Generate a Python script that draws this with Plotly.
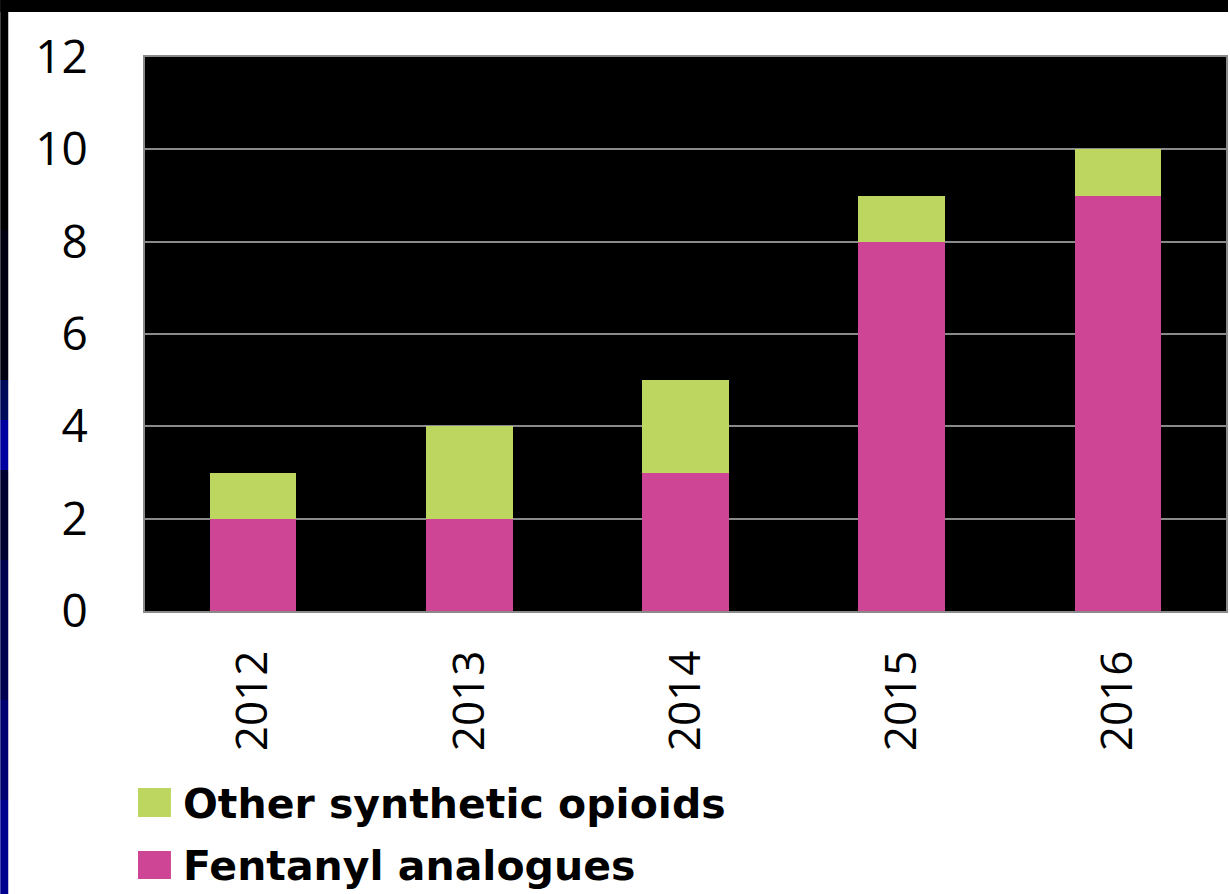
import plotly.graph_objects as go

years = ["2012", "2013", "2014", "2015", "2016"]
fentanyl_analogues = [2, 2, 3, 8, 9]
other_synthetic = [1, 2, 2, 1, 1]
y_ticks = [0, 2, 4, 6, 8, 10, 12]
series_names = ["Other synthetic opioids", "Fentanyl analogues"]

PINK = "#cf4595"
GREEN = "#bdd660"

W, H = 1230, 894
L, R, T, B = 145, 2, 57, 283
PW, PH = W - L - R, H - T - B


def px(x):
    return (x - L) / PW


def py(y):
    return (H - B - y) / PH


fig = go.Figure()
fig.add_trace(go.Bar(x=years, y=fentanyl_analogues, name=series_names[1],
                     marker=dict(color=PINK, line=dict(width=0))))
fig.add_trace(go.Bar(x=years, y=other_synthetic, name=series_names[0],
                     marker=dict(color=GREEN, line=dict(width=0))))

shapes = []
# frame strips (slide background)
shapes.append(dict(type="rect", xref="paper", yref="paper", x0=px(0), x1=px(W), y0=py(12), y1=py(0),
                   fillcolor="black", line=dict(width=0), layer="below"))
left_cols = [(0, 230, "#000000"), (230, 380, "#000010"), (380, 420, "#000a5a"), (420, 470, "#0000a0"),
             (470, 560, "#000030"), (560, 700, "#000050"), (700, 800, "#000070"), (800, 894, "#000090")]
for y0, y1, c in left_cols:
    shapes.append(dict(type="rect", xref="paper", yref="paper", x0=px(0), x1=px(8), y0=py(y1), y1=py(y0),
                       fillcolor=c, line=dict(width=0), layer="below"))
# legend swatches
legend_rows = [(788, 817, GREEN, series_names[0]), (851, 879, PINK, series_names[1])]
annotations = []
for y0, y1, c, name in legend_rows:
    shapes.append(dict(type="rect", xref="paper", yref="paper", x0=px(138), x1=px(171), y0=py(y1), y1=py(y0),
                       fillcolor=c, line=dict(width=0)))
    annotations.append(dict(xref="paper", yref="paper", x=px(181), y=py((y0 + y1) / 2 + 1),
                            xanchor="left", yanchor="middle", showarrow=False, text="<b>%s</b>" % name,
                            font=dict(family="DejaVu Sans", size=41, color="black")))

fig.update_layout(
    width=W, height=H,
    margin=dict(l=L, r=R, t=T, b=B, pad=0),
    paper_bgcolor="white", plot_bgcolor="black",
    barmode="stack", bargap=0.6,
    showlegend=False,
    shapes=shapes, annotations=annotations,
    font=dict(family="Open Sans", size=45, color="black"),
)
fig.update_xaxes(tickangle=-90, showgrid=False, showline=True, linecolor="#8a8a8a", linewidth=2,
                 mirror=True, ticks="", ticklabelstandoff=20,
                 tickfont=dict(family="Open Sans", size=44, color="black"))
fig.update_yaxes(range=[0, 12], tickvals=y_ticks, showgrid=True, gridcolor="#8a8a8a", gridwidth=2,
                 showline=True, linecolor="#8a8a8a", linewidth=2, mirror=True, zeroline=False,
                 ticks="", ticklabelstandoff=46,
                 tickfont=dict(family="Open Sans", size=46, color="black"))

fig.write_html("out.html", config={"displayModeBar": False},
               post_script="document.body.style.margin='0';document.body.style.overflow='hidden';")
